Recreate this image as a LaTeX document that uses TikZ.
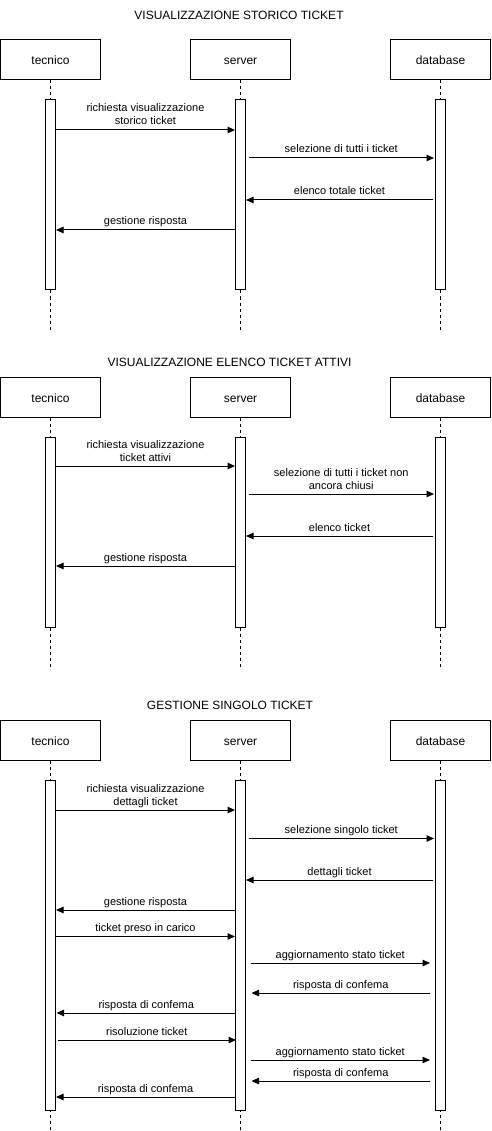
\documentclass[tikz,border=0pt]{standalone}
\usepackage{fontspec}
\setmainfont{Liberation Sans}
\usetikzlibrary{arrows.meta,calc}
\newcommand{\twolines}[2]{\begin{tabular}[b]{@{}c@{}}#1\\#2\end{tabular}}
\tikzset{
 box/.style={draw, line width=1pt, minimum width=100pt, minimum height=40pt, inner sep=0pt, font=\fontsize{12}{14}\selectfont, text height=10pt, text depth=0pt},
 bar/.style={draw, fill=white, line width=1pt, minimum width=10pt, inner sep=0pt},
 life/.style={line width=1pt, dash pattern=on 3pt off 3pt},
 msg/.style={-{Triangle[length=7.5pt,width=6.5pt]}, line width=1pt},
 lbl/.style={font=\fontsize{11}{13}\selectfont, anchor=base, inner sep=0pt, yshift=5pt},
 ttl/.style={font=\fontsize{12}{14}\selectfont, inner sep=0pt},
}
\begin{document}
\begin{tikzpicture}[x=1pt,y=-1pt]
\useasboundingbox (0,0) rectangle (491,1131);
% ---------- Section 1 ----------
\node[ttl] (title1) at (239,15) {VISUALIZZAZIONE STORICO TICKET};
\node[box] (t1) at (50.5,60) {tecnico};
\node[box] (s1) at (240.5,60) {server};
\node[box] (d1) at (440.5,60) {database};
\draw[life] (t1.south) -- (t1.south |- 0,330);
\draw[life] (s1.south) -- (s1.south |- 0,330);
\draw[life] (d1.south) -- (d1.south |- 0,330);
\node[bar, minimum height=190pt] (tb1) at (50.5,195) {};
\node[bar, minimum height=190pt] (sb1) at (240.5,195) {};
\node[bar, minimum height=190pt] (db1) at (440.5,195) {};
\draw[msg] (tb1.east |- 0,130) -- node[lbl] {\twolines{richiesta visualizzazione}{storico ticket}} (sb1.west |- 0,130);
\draw[msg] ($(sb1.east |- 0,158)+(2.5,0)$) -- node[lbl] {selezione di tutti i ticket} ($(db1.west |- 0,158)+(-1,0)$);
\draw[msg] ($(db1.west |- 0,200)+(-2,0)$) -- node[lbl] {elenco totale ticket} (sb1.east |- 0,200);
\draw[msg] (sb1.west |- 0,230) -- node[lbl] {gestione risposta} (tb1.east |- 0,230);
% ---------- Section 2 ----------
\node[ttl] (title2) at (229.5,362) {VISUALIZZAZIONE ELENCO TICKET ATTIVI};
\node[box] (t2) at (50.5,397) {tecnico};
\node[box] (s2) at (240.5,397) {server};
\node[box] (d2) at (440.5,397) {database};
\draw[life] (t2.south) -- (t2.south |- 0,667);
\draw[life] (s2.south) -- (s2.south |- 0,667);
\draw[life] (d2.south) -- (d2.south |- 0,667);
\node[bar, minimum height=190pt] (tb2) at (50.5,532) {};
\node[bar, minimum height=190pt] (sb2) at (240.5,532) {};
\node[bar, minimum height=190pt] (db2) at (440.5,532) {};
\draw[msg] (tb2.east |- 0,466) -- node[lbl] {\twolines{richiesta visualizzazione}{ticket attivi}} (sb2.west |- 0,466);
\draw[msg] ($(sb2.east |- 0,494)+(2.5,0)$) -- node[lbl] {\twolines{selezione di tutti i ticket non}{ancora chiusi}} ($(db2.west |- 0,494)+(-1,0)$);
\draw[msg] ($(db2.west |- 0,536)+(-2,0)$) -- node[lbl] {elenco ticket} (sb2.east |- 0,536);
\draw[msg] (sb2.west |- 0,566) -- node[lbl] {gestione risposta} (tb2.east |- 0,566);
% ---------- Section 3 ----------
\node[ttl] (title3) at (230,705) {GESTIONE SINGOLO TICKET};
\node[box] (t3) at (50.5,740) {tecnico};
\node[box] (s3) at (240.5,740) {server};
\node[box] (d3) at (440.5,740) {database};
\draw[life] (t3.south) -- (t3.south |- 0,1131);
\draw[life] (s3.south) -- (s3.south |- 0,1131);
\draw[life] (d3.south) -- (d3.south |- 0,1131);
\node[bar, minimum height=330pt] (tb3) at (50.5,945) {};
\node[bar, minimum height=330pt] (sb3) at (240.5,945) {};
\node[bar, minimum height=330pt] (db3) at (440.5,945) {};
\draw[msg] (tb3.east |- 0,810) -- node[lbl] {\twolines{richiesta visualizzazione}{dettagli ticket}} (sb3.west |- 0,810);
\draw[msg] ($(sb3.east |- 0,838.5)+(2.5,0)$) -- node[lbl] {selezione singolo ticket} ($(db3.west |- 0,838.5)+(-1,0)$);
\draw[msg] ($(db3.west |- 0,880)+(-2,0)$) -- node[lbl] {dettagli ticket} (sb3.east |- 0,880);
\draw[msg] (sb3.west |- 0,910) -- node[lbl] {gestione risposta} (tb3.east |- 0,910);
\draw[msg] (tb3.east |- 0,936.5) -- node[lbl] {ticket preso in carico} (sb3.west |- 0,936.5);
\draw[msg] ($(sb3.east |- 0,963)+(4.5,0)$) -- node[lbl] {aggiornamento stato ticket} ($(db3.west |- 0,963)+(-5,0)$);
\draw[msg] ($(db3.west |- 0,993)+(-5,0)$) -- node[lbl] {risposta di confema} ($(sb3.east |- 0,993)+(5.5,0)$);
\draw[msg] ($(sb3.west |- 0,1013)+(1,0)$) -- node[lbl] {risposta di confema} ($(tb3.east |- 0,1013)+(0.5,0)$);
\draw[msg] ($(tb3.east |- 0,1040)+(1.5,0)$) -- node[lbl] {risoluzione ticket} ($(sb3.west |- 0,1040)+(1,0)$);
\draw[msg] ($(sb3.east |- 0,1060)+(4.5,0)$) -- node[lbl] {aggiornamento stato ticket} ($(db3.west |- 0,1060)+(-5,0)$);
\draw[msg] ($(db3.west |- 0,1081)+(-5,0)$) -- node[lbl] {risposta di confema} ($(sb3.east |- 0,1081)+(5.5,0)$);
\draw[msg] (sb3.west |- 0,1097) -- node[lbl] {risposta di confema} (tb3.east |- 0,1097);
\end{tikzpicture}
\end{document}
